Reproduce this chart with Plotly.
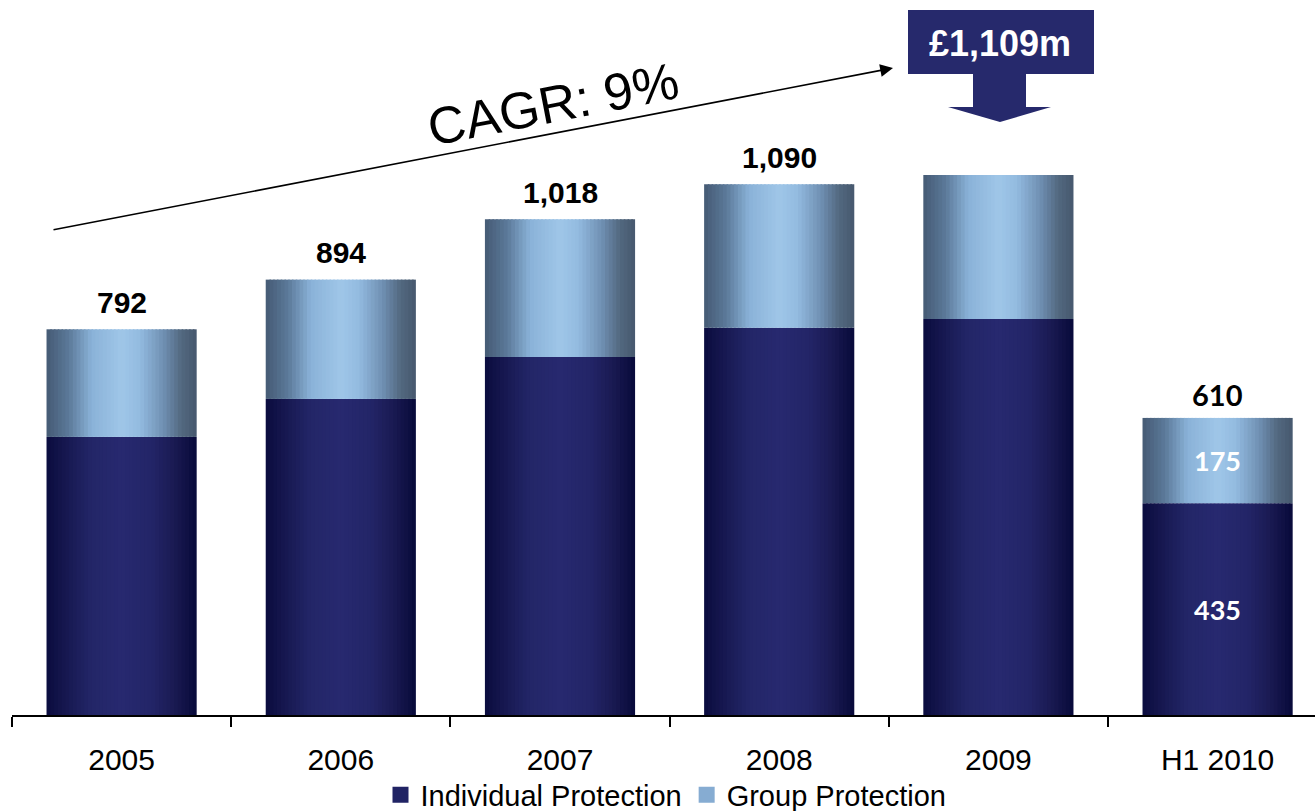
import plotly.graph_objects as go

# ---- data ----
categories = ["2005", "2006", "2007", "2008", "2009", "H1 2010"]
individual = [571, 649, 735, 795, 813, 435]
group = [221, 245, 283, 295, 296, 175]
total_labels = ["792", "894", "1,018", "1,090", "", "610"]
inside_ind_labels = ["", "", "", "", "", "435"]
inside_grp_labels = ["", "", "", "", "", "175"]
headline = "£1,109m"
cagr_text = "CAGR: 9%"

totals = [a + b for a, b in zip(individual, group)]

# ---- geometry helpers (pixel -> axis units), for decorations only ----
L, PXU = 12, 219.2           # plot left edge px, px per category
BASE, PYU = 715, 0.487       # baseline px, px per unit
XR = [-0.5, -0.5 + (1315 - L) / PXU]
YR = [0, BASE / PYU]

def px(x):
    return -0.5 + (x - L) / PXU

def py(y):
    return (BASE - y) / PYU

def hex2rgb(h):
    h = h.lstrip("#")
    return tuple(int(h[i:i + 2], 16) for i in (0, 2, 4))

def interp(stops, t):
    for (t0, c0), (t1, c1) in zip(stops, stops[1:]):
        if t0 <= t <= t1:
            f = (t - t0) / (t1 - t0) if t1 > t0 else 0
            a, b = hex2rgb(c0), hex2rgb(c1)
            return "rgb(%d,%d,%d)" % tuple(round(a[k] + (b[k] - a[k]) * f) for k in range(3))
    return stops[-1][1]

grp_stops = [(0, "#455a74"), (0.15, "#5c7a9a"), (0.3, "#8ab2d8"), (0.5, "#9fc6e8"),
             (0.62, "#93bbe0"), (0.78, "#6f8fb2"), (0.9, "#52687f"), (1, "#46586e")]
ind_stops = [(0, "#0a0c3e"), (0.12, "#16174f"), (0.3, "#232668"), (0.5, "#27296f"),
             (0.7, "#232568"), (0.85, "#1a1a52"), (1, "#080a3a")]

W = 0.685
N = 40
step = W / N
idx = list(range(len(categories)))

fig = go.Figure()

def add_series(vals, base, stops, name):
    for i in range(N):
        off = -W / 2 + i * step
        wid = min(step * 1.4, W / 2 - off)
        fig.add_trace(go.Bar(
            x=categories, y=vals, base=base, offset=off, width=wid,
            marker=dict(color=interp(stops, (i + 0.5) / N), line=dict(width=0)),
            name=name, legendgroup=name, showlegend=False,
            hoverinfo="skip" if i != N // 2 else None,
        ))

add_series(individual, [0] * len(categories), ind_stops, "Individual Protection")
add_series(group, individual, grp_stops, "Group Protection")

# legend entries
for name, col in [("Individual Protection", "#202364"), ("Group Protection", "#86acd2")]:
    fig.add_trace(go.Scatter(x=[None], y=[None], mode="markers", name=name, legendgroup=name,
                             marker=dict(symbol="square", size=17, color=col,
                                         line=dict(width=0))))

annotations = []
# totals above bars
for i, t, lab in zip(idx, totals, total_labels):
    if not lab:
        continue
    last = i == len(categories) - 1
    fam = "Lato" if last else "Liberation Sans"
    annotations.append(dict(x=i, y=t, text="<b>%s</b>" % lab, showarrow=False,
                            yanchor="middle", yshift=23 if last else 27,
                            font=dict(family=fam, size=29 if last else 30, color="black")))
# inside labels
for i, a, b, la, lb in zip(idx, individual, group, inside_ind_labels, inside_grp_labels):
    if la:
        annotations.append(dict(x=i, y=a / 2, text="<b>%s</b>" % la, showarrow=False,
                                font=dict(family="Lato", size=27, color="white")))
    if lb:
        annotations.append(dict(x=i, y=a + b / 2, text="<b>%s</b>" % lb, showarrow=False,
                                font=dict(family="Lato", size=27, color="white")))

# CAGR arrow
annotations.append(dict(x=px(893), y=py(68), ax=px(52), ay=py(230), xref="x", yref="y",
                        axref="x", ayref="y", showarrow=True, arrowhead=2, arrowsize=1.6,
                        arrowwidth=1.6, arrowcolor="black", text=""))
annotations.append(dict(x=px(553), y=py(104), xref="x", yref="y", text=cagr_text, showarrow=False,
                        textangle=-11, font=dict(family="Liberation Sans", size=52, color="black")))
# headline box text
annotations.append(dict(x=px(1000), y=py(43), xref="x", yref="y", text="<b>%s</b>" % headline,
                        showarrow=False, font=dict(family="Liberation Sans", size=36, color="white")))

navy = "#26296c"
shapes = [
    dict(type="rect", xref="x", yref="y", x0=px(908), x1=px(1094), y0=py(74), y1=py(10),
         fillcolor=navy, line=dict(width=0), layer="above"),
    dict(type="path", xref="x", yref="y", fillcolor=navy, line=dict(width=0), layer="above",
         path="M %f %f L %f %f L %f %f L %f %f L %f %f L %f %f L %f %f Z" % (
             px(973), py(73), px(1026), py(73), px(1026), py(107), px(1051), py(107),
             px(1000), py(122), px(948), py(107), px(973), py(107))),
]

fig.update_layout(
    width=1315, height=811,
    margin=dict(l=L, r=0, t=0, b=96, autoexpand=False),
    paper_bgcolor="white", plot_bgcolor="white",
    barmode="overlay",
    showlegend=True,
    legend=dict(orientation="h", x=(666 - L) / 1303, xanchor="center",
                yref="container", y=(811 - 795) / 811, yanchor="middle",
                font=dict(family="Liberation Sans", size=29, color="black"),
                traceorder="normal", itemwidth=30, bgcolor="rgba(0,0,0,0)"),
    xaxis=dict(type="category", range=XR, showgrid=False, showline=True, linecolor="black",
               linewidth=1.5, ticks="outside", tickson="boundaries", ticklen=10,
               tickcolor="black", tickwidth=1.5, ticklabelstandoff=17, automargin=False,
               tickfont=dict(family="Liberation Sans", size=30, color="black"), zeroline=False),
    yaxis=dict(range=YR, visible=False, showgrid=False, zeroline=False, automargin=False),
    annotations=annotations,
    shapes=shapes,
)

fig.write_html("out.html", config={"displayModeBar": False},
               post_script="document.body.style.margin='0';")
